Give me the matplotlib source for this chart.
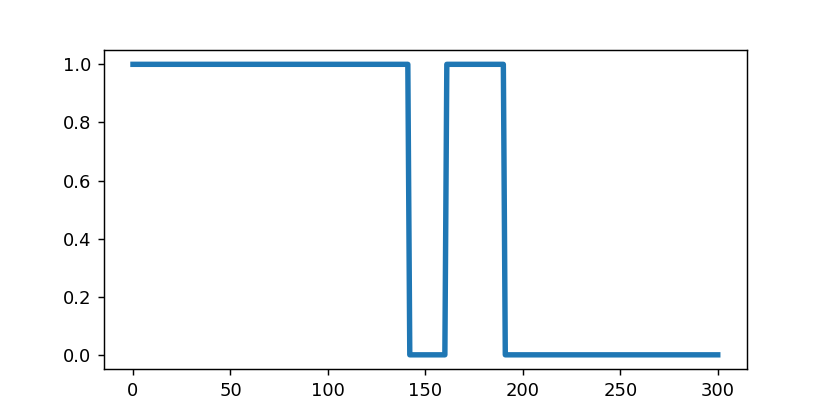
import matplotlib
matplotlib.use('Agg')
import matplotlib.pyplot as plt

# breakpoints of the step signal
x = [0, 141, 142, 160, 161, 190, 191, 300]
y = [1, 1, 0, 0, 1, 1, 0, 0]

fig = plt.figure(figsize=(830 / 130, 415 / 130), dpi=130)
plt.plot(x, y, linewidth=3)
fig.savefig('out.png', dpi=130)
